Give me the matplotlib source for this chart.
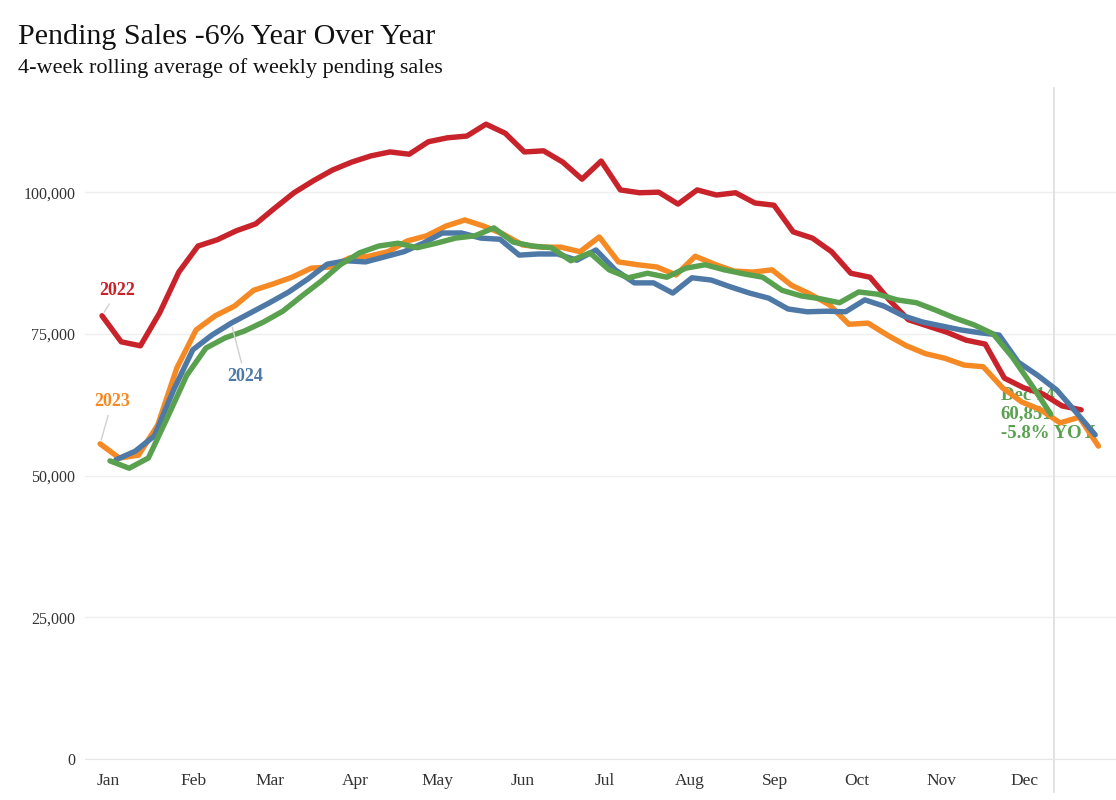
import numpy as np
import matplotlib.pyplot as plt
from matplotlib.ticker import FuncFormatter

plt.rcParams['font.family'] = ['Liberation Serif', 'DejaVu Serif']

# weekly 4-week rolling average of pending sales
sales_2022 = [78200, 73600, 72900, 78700, 85900, 90500, 91600, 93200, 94400, 97200,
              99900, 102000, 103900, 105300, 106400, 107100, 106700, 108900, 109600, 109900,
              112000, 110400, 107100, 107300, 105300, 102300, 105500, 100400, 99900, 100000,
              97900, 100400, 99500, 99900, 98100, 97700, 93000, 91900, 89500, 85700,
              85000, 81000, 77500, 76400, 75300, 73900, 73200, 67200, 65500, 64400,
              62300, 61600]
sales_2023 = [55600, 53100, 53600, 58900, 69000, 75700, 78200, 79900, 82700, 83800,
              85000, 86600, 86800, 88400, 88700, 89500, 91400, 92300, 94000, 95100,
              94000, 92600, 90700, 90300, 90300, 89500, 92100, 87700, 87200, 86800,
              85400, 88700, 87300, 86100, 85900, 86300, 83600, 82000, 80100, 76700,
              76900, 74800, 72900, 71500, 70700, 69500, 69200, 65500, 63000, 61600,
              59300, 60300, 55200]
sales_2024 = [52800, 54300, 57000, 65100, 72200, 74800, 76900, 78700, 80500, 82400,
              84700, 87300, 87900, 87700, 88600, 89500, 91000, 92800, 92800, 91900,
              91700, 88900, 89100, 89100, 88000, 89800, 86300, 84000, 84000, 82200,
              84900, 84500, 83300, 82200, 81300, 79400, 78900, 79000, 78900, 81000,
              79900, 78200, 77100, 76400, 75700, 75200, 74800, 70000, 67700, 65100,
              61200, 57200]
sales_2025 = [52600, 51300, 53100, 60300, 67700, 72500, 74300, 75500, 77100, 79000,
              81700, 84300, 87200, 89300, 90500, 91000, 90200, 91000, 91900, 92300,
              93700, 91200, 90500, 90200, 87900, 89300, 86300, 84900, 85700, 85000,
              86600, 87200, 86300, 85600, 85000, 82700, 81700, 81200, 80500, 82400,
              82000, 81000, 80500, 79200, 77800, 76600, 75000, 70900, 66000, 60851]

# day of year of each series' first week
start_day = {'2022': -2.2, '2023': -2.9, '2024': 2.9, '2025': 0.7}

months = ['Jan', 'Feb', 'Mar', 'Apr', 'May', 'Jun', 'Jul', 'Aug', 'Sep', 'Oct', 'Nov', 'Dec']
month_start = [0, 31, 59, 90, 120, 151, 181, 212, 243, 273, 304, 334]

colors = {'2022': '#c8232b', '2023': '#f58a24', '2024': '#4e79a7', '2025': '#59a14f'}

series = {'2022': sales_2022, '2023': sales_2023, '2024': sales_2024, '2025': sales_2025}
days = {k: start_day[k] + 7 * np.arange(len(v)) for k, v in series.items()}

fig = plt.figure(figsize=(11.16, 8.0), dpi=100)
ax = fig.add_axes([85 / 1116, 41 / 800, 1 - 85 / 1116, 657.5 / 800])

for yr in ['2022', '2023', '2024', '2025']:
    ax.plot(days[yr], series[yr], color=colors[yr], lw=3.9,
            solid_capstyle='round', solid_joinstyle='round', zorder=3)

ax.set_xlim(-8.4, 367.5)
ax.set_ylim(0, 116000)
ax.set_yticks([0, 25000, 50000, 75000, 100000])
ax.yaxis.set_major_formatter(FuncFormatter(lambda v, p: f'{int(v):,}'))
ax.set_xticks(month_start)
ax.set_xticklabels(months)
ax.tick_params(axis='both', length=0, colors='#333333')
ax.tick_params(axis='y', labelsize=11.5, pad=7)
ax.tick_params(axis='x', labelsize=12.5, pad=10)
ax.grid(axis='y', color='#efefef', lw=1)
ax.set_axisbelow(True)
for s in ['top', 'right', 'left']:
    ax.spines[s].set_visible(False)
ax.spines['bottom'].set_color('#e6e6e6')

# reference line at latest week, running a little past the plot area
ref_x = days['2025'][-1] + 1.2
ax.plot([ref_x, ref_x], [-0.05, 1.02], color='#dddddd', lw=1.2, zorder=1,
        transform=ax.get_xaxis_transform(), clip_on=False)

lead = dict(arrowstyle='-', color='#d0d0d0', lw=1, shrinkA=2, shrinkB=3)
ax.annotate('2022', xy=(days['2022'][0], sales_2022[0]), xytext=(3.5, 82700),
            color=colors['2022'], fontsize=13, fontweight='bold', ha='center', va='center',
            arrowprops=lead, zorder=4)
ax.annotate('2023', xy=(days['2023'][0], sales_2023[0]), xytext=(1.5, 63100),
            color=colors['2023'], fontsize=13, fontweight='bold', ha='center', va='center',
            arrowprops=lead, zorder=4)
ax.annotate('2024', xy=(days['2024'][6], sales_2024[6]), xytext=(50, 67400),
            color=colors['2024'], fontsize=13, fontweight='bold', ha='center', va='center',
            arrowprops=lead, zorder=4)

ax.text(325.5, sales_2025[-1], f'Dec 14\n{sales_2025[-1]:,}\n-5.8% YOY',
        color=colors['2025'], fontsize=13.5, fontweight='bold', ha='left', va='center',
        linespacing=1.15, zorder=2)

fig.text(18 / 1116, 1 - 37 / 800, 'Pending Sales -6% Year Over Year',
         fontsize=21.6, va='center', ha='left', color='#111111')
fig.text(18 / 1116, 1 - 68 / 800, '4-week rolling average of weekly pending sales',
         fontsize=16, va='center', ha='left', color='#111111')

fig.savefig('out.png', dpi=100)
